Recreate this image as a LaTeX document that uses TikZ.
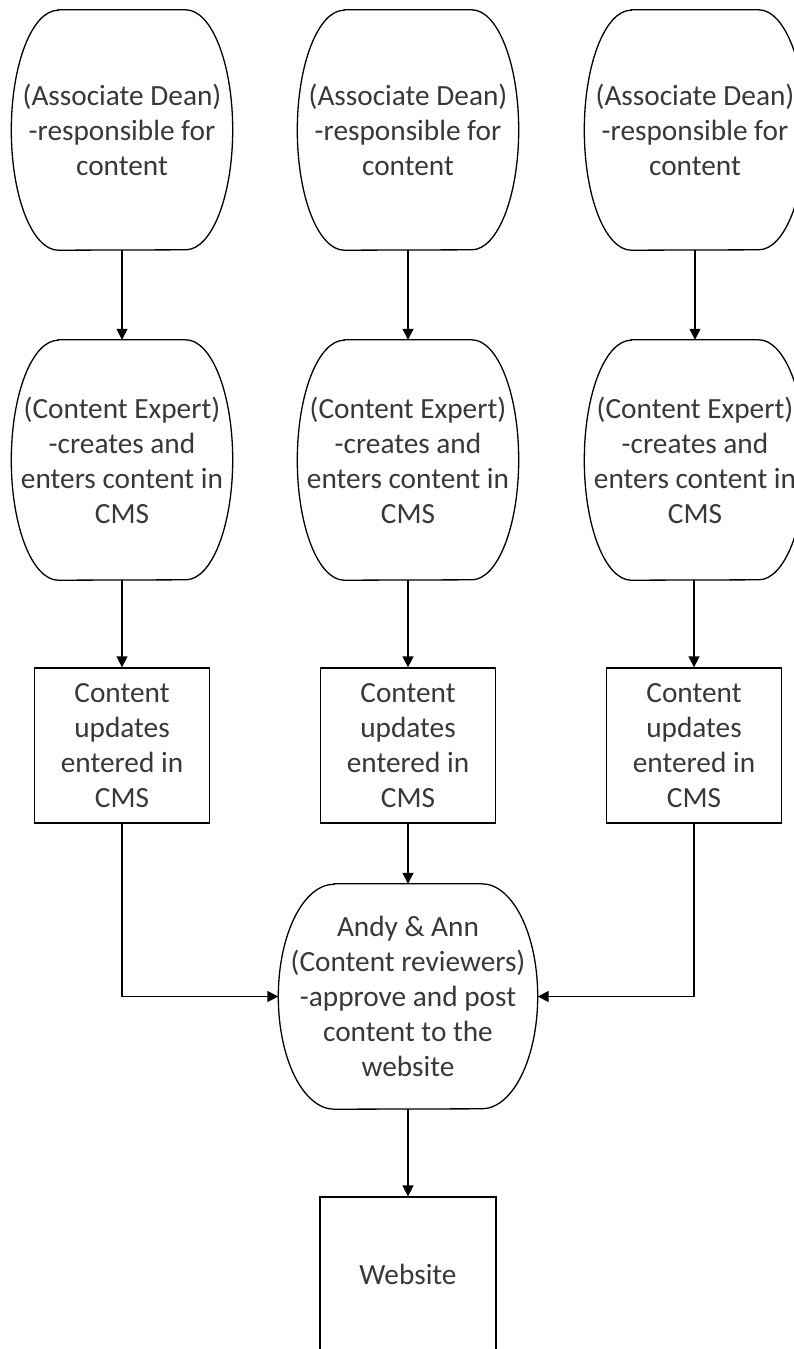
\documentclass[tikz,border=0pt]{standalone}
\usepackage{fontspec}
\setmainfont{Carlito}
\usetikzlibrary{arrows.meta}
\begin{document}
\begin{tikzpicture}[x=1pt,y=-1pt,
  txt/.style={align=center, inner sep=0pt, text=black!78,
    font=\fontsize{29.3}{35}\selectfont},
  barrel/.style={txt, minimum width=221pt, minimum height=240pt},
  review/.style={txt, minimum width=259pt, minimum height=225pt},
  box/.style={txt, draw, line width=1.3pt, minimum width=175pt, minimum height=155pt},
  outline/.style={line width=1.3pt},
  flow/.style={line width=1.4pt, -{Triangle[length=11pt,width=11pt]}}]
\useasboundingbox (0,0) rectangle (794,1349);

% role nodes (outlines drawn below)
\node[barrel] (ad1) at (122,130) {(Associate Dean)\\-responsible for\\content};
\node[barrel] (ad2) at (408,130) {(Associate Dean)\\-responsible for\\content};
\node[barrel] (ad3) at (695,130) {(Associate Dean)\\-responsible for\\content};
\node[barrel] (ce1) at (122,460) {(Content Expert)\\-creates and\\enters content in\\CMS};
\node[barrel] (ce2) at (408,460) {(Content Expert)\\-creates and\\enters content in\\CMS};
\node[barrel] (ce3) at (695,460) {(Content Expert)\\-creates and\\enters content in\\CMS};

% CMS update boxes
\node[box] (up1) at (122,745.5) {Content\\updates\\entered in\\CMS};
\node[box] (up2) at (408,745.5) {Content\\updates\\entered in\\CMS};
\node[box] (up3) at (694,745.5) {Content\\updates\\entered in\\CMS};

% reviewers and website
\node[review] (rev) at (408,996.5) {Andy \& Ann\\(Content reviewers)\\-approve and post\\content to the\\website};
\node[box, minimum width=176pt] (web) at (408,1274.5) {Website};

% barrel outlines: flat top and bottom, elliptical sides
\foreach \n/\rx/\ry in {ad1/47/120, ad2/47/120, ad3/47/120,
                        ce1/47/120, ce2/47/120, ce3/47/120, rev/56/112.5}
  \draw[outline] ([xshift=\rx pt]\n.north west) -- ([xshift=-\rx pt]\n.north east)
    arc[start angle=90, end angle=-90, x radius=\rx pt, y radius=\ry pt]
    -- ([xshift=\rx pt]\n.south west)
    arc[start angle=270, end angle=90, x radius=\rx pt, y radius=\ry pt] -- cycle;

% connectors
\draw[flow] (ad1) -- (ce1);
\draw[flow] (ad2) -- (ce2);
\draw[flow] (ad3.south -| ce3.north) -- (ce3);
\draw[flow] (ce1) -- (up1);
\draw[flow] (ce2) -- (up2);
\draw[flow] (ce3.south -| up3.north) -- (up3);
\draw[flow] (up1.south) |- (rev.west);
\draw[flow] (up2) -- (rev);
\draw[flow] (up3.south) |- (rev.east);
\draw[flow] (rev) -- (web);
\end{tikzpicture}
\end{document}
